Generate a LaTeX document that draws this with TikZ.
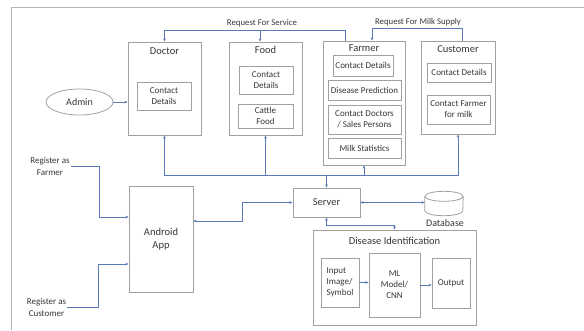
\documentclass[tikz,border=0pt]{standalone}
\usepackage{fontspec}
\setmainfont{Carlito}
\usetikzlibrary{arrows.meta,shapes.geometric}

\definecolor{linkblue}{HTML}{5A7BB8}
\definecolor{boxgray}{HTML}{A0A0A0}
\definecolor{ink}{HTML}{363636}

\begin{document}
\begin{tikzpicture}[x=1pt,y=-1pt,>={Stealth[length=3.2pt,width=2.6pt]},
  box/.style={draw=boxgray,line width=0.8pt,text=ink,align=center,inner sep=1pt,font=\fontsize{9}{11}\selectfont},
  sz/.style n args={2}{minimum width=#1pt,minimum height=#2pt},
  title/.style={text=ink,inner sep=1pt,font=\fontsize{10.5}{12}\selectfont},
  tag/.style={text=ink,align=center,inner sep=1pt,font=\fontsize{9}{12.5}\selectfont},
  wire/.style={draw=linkblue,line width=0.7pt}]
\useasboundingbox (0,0) rectangle (584,330);
\draw[boxgray!80,line width=1pt] (11,330) -- (11,7) -- (584,7);

% user side boxes
\node[box,sz={73}{93}] (doctor) at (164.5,88.5) {};
\node[title] (doctorT) at (164.5,51) {Doctor};
\node[box,sz={54}{28}] (docInfo) at (164,96) {Contact\\Details};
\node[box,sz={73}{93}] (food) at (265.5,88.5) {};
\node[title] (foodT) at (265.5,50) {Food};
\node[box,sz={54}{28}] (foodInfo) at (266,80) {Contact\\Details};
\node[box,sz={55}{24}] (cattle) at (265.5,116) {Cattle\\Food};
\node[box,sz={82}{124}] (farmer) at (364,103) {};
\node[title] (farmerT) at (364,48) {Farmer};
\node[box,sz={60}{21}] (farmInfo) at (363,65.5) {Contact Details};
\node[box,sz={73}{20}] (predict) at (364.5,90) {Disease Prediction};
\node[box,sz={73}{29}] (reach) at (364.5,119.5) {Contact Doctors\\/ Sales Persons};
\node[box,sz={73}{20}] (stats) at (364.5,148) {Milk Statistics};
\node[box,sz={74}{93}] (customer) at (458,87.5) {};
\node[title] (customerT) at (458,49) {Customer};
\node[box,sz={64}{19}] (custInfo) at (459,72.5) {Contact Details};
\node[box,sz={63}{29}] (order) at (458.5,109.5) {Contact Farmer\\for milk};
\node[box,ellipse,sz={67}{26},font=\fontsize{10}{12}\selectfont] (admin) at (79.5,102) {Admin};

% app, server and storage
\node[box,sz={64}{106},font=\fontsize{10.5}{13}\selectfont] (app) at (161,239) {Android\\App};
\node[box,sz={67}{29},font=\fontsize{10.5}{12}\selectfont] (server) at (326.5,202.5) {Server};
\node[sz={38}{24},inner sep=0pt] (db) at (444,203.5) {};
\draw[boxgray,line width=0.8pt] ([yshift=-5pt]db.north) ellipse [x radius=19pt,y radius=5pt];
\draw[boxgray,line width=0.8pt] ([yshift=-5pt]db.north west) -- ([yshift=5pt]db.south west)
  arc[start angle=180,end angle=360,x radius=19pt,y radius=5pt] -- ([yshift=-5pt]db.north east);
\node[title,font=\fontsize{10}{12}\selectfont] (dbT) at (445,223) {Database};
\node[tag] (regF) at (50,166.5) {Register as\\Farmer};
\node[tag] (regC) at (46.5,307.5) {Register as\\Customer};

% disease identification block
\node[box,sz={163}{95}] (disId) at (394.5,277.5) {};
\node[title] (disIdT) at (394.5,241) {Disease Identification};
\node[box,sz={38}{49},align=left] (input) at (340,282.5) {Input\\Image/\\Symbol};
\node[box,sz={51}{64}] (ml) at (394.5,285) {ML\\Model/\\CNN};
\node[box,sz={38}{50}] (output) at (451,283) {Output};

% requests between users
\coordinate (svc) at (345,30);
\coordinate (milk) at (462,28);
\node[tag,font=\fontsize{8.8}{10}\selectfont] (svcT) at (262,23) {Request For Service};
\node[tag,font=\fontsize{8.8}{10}\selectfont] (milkT) at (418,22.5) {Request For Milk Supply};
\draw[wire] ([xshift=-19pt]farmer.north) -- (svc);
\draw[wire,->] (svc) -| (doctor.north);
\draw[wire,->] ([xshift=-5.5pt]food.north |- svc) -- ([xshift=-5.5pt]food.north);
\draw[wire,->] ([xshift=4pt]customer.north) -- (milk) -| ([xshift=8pt]farmer.north);
\draw[wire,->] (admin.east) -- (admin.east -| doctor.west);

% bus to the server
\coordinate (bus) at (326.5,175);
\draw[wire,->] (bus) -| (doctor.south);
\draw[wire,->] (bus) -| (food.south);
\draw[wire,->] (bus) -| (farmer.south);
\draw[wire,->] (bus) -| (customer.south);
\draw[wire,->] (bus) -- (server.north);
\draw[wire,<->] (server.west) -- ++(-50,0) |- ([yshift=18pt]app.east);
\draw[wire,<->] (server.east) -- (server.east -| db.west);
\draw[wire,<->] (server.south) -- ++(0,8) -| (disId.north);
\draw[wire,->] (regF.east) -- ++(28,0) |- ([yshift=22pt]app.west);
\draw[wire,->] (regC.east) -- ++(31,0) |- ([yshift=-25pt]app.west);
\draw[wire,->] (input.east) -- (input.east -| ml.west);
\draw[wire,->] (ml.east) -- (ml.east -| output.west);
\end{tikzpicture}
\end{document}
